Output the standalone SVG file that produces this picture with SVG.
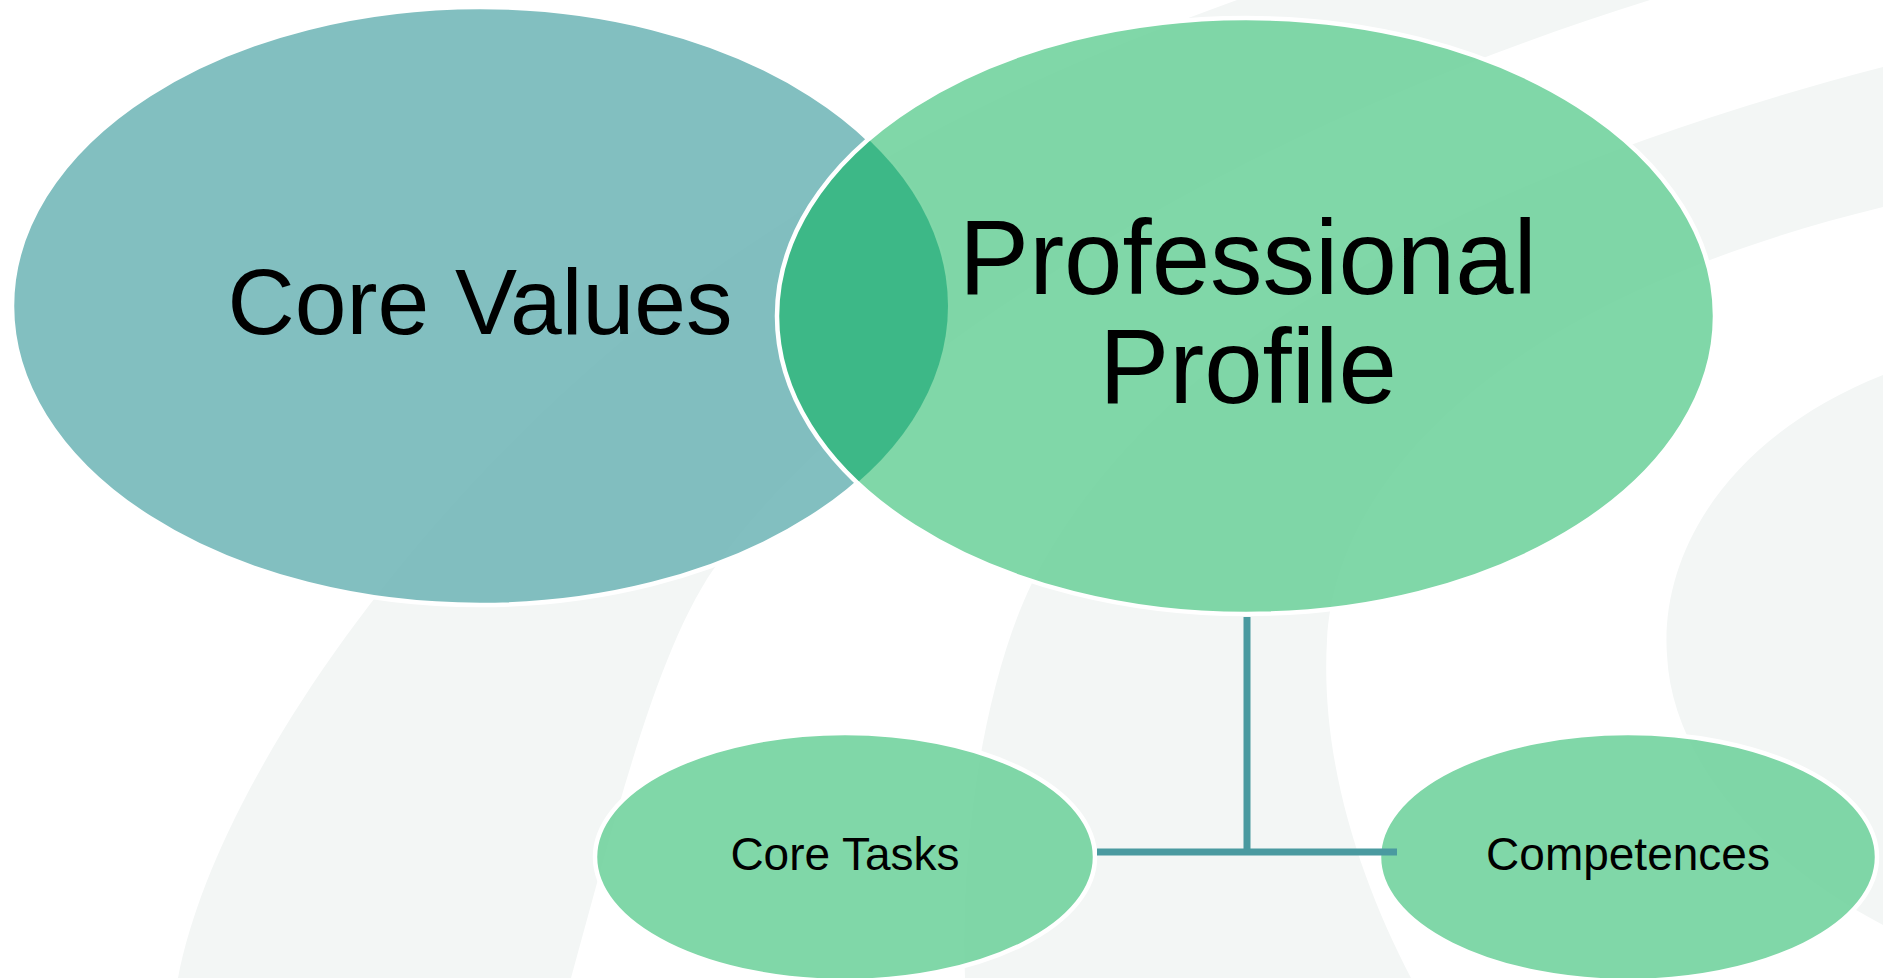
<svg xmlns="http://www.w3.org/2000/svg" width="1883" height="978" viewBox="0 0 1883 978">
<defs>
<style>
.band{fill:#f3f6f5;}
.lbl{font-family:"Liberation Sans",Arial,sans-serif;fill:#000;text-anchor:middle;}
.ring{fill:none;stroke:#ffffff;stroke-width:4.5;}
.green{fill:#6ad099;fill-opacity:0.85;}
.conn{fill:none;stroke:#4a9aa0;stroke-width:7;}
</style>
<clipPath id="ppClip"><ellipse cx="1246" cy="316" rx="469" ry="298"/></clipPath>
</defs>
<rect x="0" y="0" width="1883" height="978" fill="#ffffff"/>
<g id="background">
<path class="band" d="M178,978 C220,760 470,420 786,221 C950,110 1100,50 1237,0 L1650,0 C1200,140 850,380 720,560 C660,640 620,800 571,978 Z"/>
<path class="band" d="M965,978 C960,840 985,680 1032,583 C1150,350 1450,180 1883,67 L1883,207 C1500,300 1335,480 1327,640 C1320,760 1360,880 1411,978 Z"/>
<path class="band" d="M1883,375 C1720,440 1660,560 1667,655 C1672,760 1760,860 1883,925 Z"/>
</g>
<g id="node-core-values">
<ellipse cx="480" cy="306" rx="468" ry="299" fill="#6cb4b5" fill-opacity="0.85" stroke="#ffffff" stroke-width="4.5"/>
<text class="lbl" x="480" y="334" font-size="93">Core Values</text>
</g>
<g id="node-professional-profile">
<ellipse class="green" cx="1246" cy="316" rx="469" ry="298"/>
<ellipse cx="480" cy="306" rx="468" ry="299" fill="#3db887" clip-path="url(#ppClip)"/>
<ellipse class="ring" cx="1246" cy="316" rx="469" ry="298"/>
<text class="lbl" x="1248" y="294" font-size="105">Professional</text>
<text class="lbl" x="1248" y="403" font-size="105">Profile</text>
</g>
<g id="node-core-tasks">
<ellipse class="green" cx="845" cy="857" rx="250" ry="124"/>
<ellipse class="ring" cx="845" cy="857" rx="250" ry="124"/>
<text class="lbl" x="845" y="870" font-size="46">Core Tasks</text>
</g>
<g id="node-competences">
<ellipse class="green" cx="1628" cy="857" rx="249" ry="124"/>
<ellipse class="ring" cx="1628" cy="857" rx="249" ry="124"/>
<text class="lbl" x="1628" y="870" font-size="46">Competences</text>
</g>
<g id="connectors">
<path class="conn" d="M1247,617 V852 M1097,852 H1397"/>
</g>
</svg>
